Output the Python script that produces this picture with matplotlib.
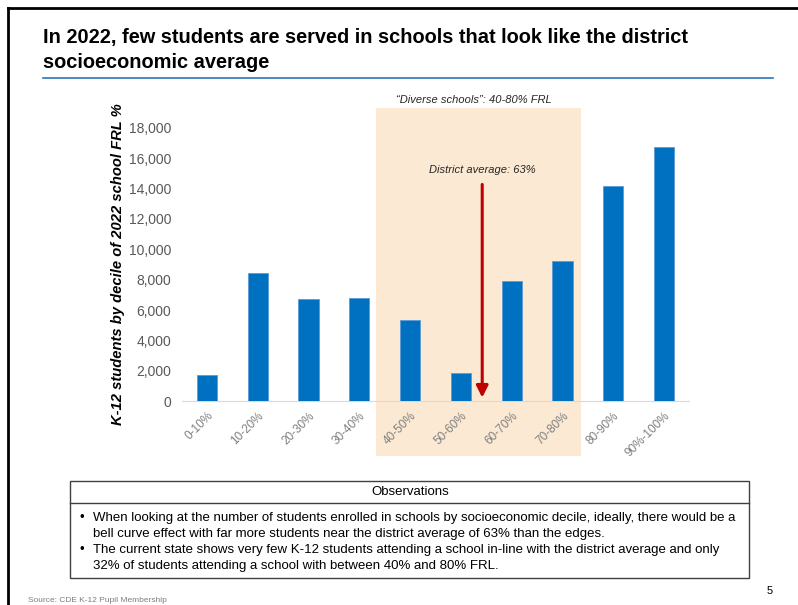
import matplotlib.pyplot as plt
import matplotlib.patches as mpatches
from matplotlib.lines import Line2D
from matplotlib.ticker import FuncFormatter

plt.rcParams["font.family"] = ["Liberation Sans", "DejaVu Sans"]

deciles = ["0-10%", "10-20%", "20-30%", "30-40%", "40-50%",
           "50-60%", "60-70%", "70-80%", "80-90%", "90%-100%"]
students = [1700, 8450, 6730, 6810, 5340, 1890, 7890, 9230, 14180, 16730]
yticks = list(range(0, 18001, 2000))

W, H = 798, 605
fig = plt.figure(figsize=(W / 100, H / 100), dpi=100)

def fx(px):
    return px / W

def fy(py):
    return 1 - py / H

# slide frame
fig.add_artist(Line2D([fx(8), fx(8)], [fy(8), 0], color="black", lw=2))
fig.add_artist(Line2D([fx(8), 1], [fy(8), fy(8)], color="black", lw=2))

# title
fig.text(fx(43), fy(37), "In 2022, few students are served in schools that look like the district",
         fontsize=14.4, fontweight="bold", va="center")
fig.text(fx(43), fy(62), "socioeconomic average",
         fontsize=14.4, fontweight="bold", va="center")
fig.add_artist(Line2D([fx(43), fx(773)], [fy(78), fy(78)], color="#2E75B6", lw=1.2))

# diverse-schools band
band = mpatches.Rectangle((fx(376), fy(456)), fx(581) - fx(376), fy(108) - fy(456),
                          transform=fig.transFigure, facecolor="#FCE9D3",
                          edgecolor="none", zorder=0)
fig.add_artist(band)
fig.text(fx(474), fy(100), "\u201cDiverse schools\u201d: 40-80% FRL", fontsize=8,
         style="italic", ha="center", va="center", color="#262626")

ax = fig.add_axes([fx(181.6), fy(401.3), fx(689.4) - fx(181.6), fy(127.7) - fy(401.3)])
ax.set_zorder(2)
ax.patch.set_alpha(0)
x = range(len(deciles))
ax.bar(x, students, width=0.4, color="#0070C0", edgecolor="#5B9BD5", linewidth=0.6, zorder=3)
ax.set_xlim(-0.5, len(deciles) - 0.5)
ax.set_ylim(0, 18000)
ax.set_yticks(yticks)
ax.yaxis.set_major_formatter(FuncFormatter(lambda v, p: f"{int(v):,}"))
ax.set_xticks(list(x))
ax.set_xticklabels(deciles, rotation=45, ha="right", rotation_mode="anchor",
                   fontsize=8.5, color="#7F7F7F")
ax.tick_params(axis="y", length=0, labelsize=10, labelcolor="#595959", pad=7.5)
ax.tick_params(axis="x", length=0, pad=6)
for s in ["top", "right", "left"]:
    ax.spines[s].set_visible(False)
ax.spines["bottom"].set_color("#D9D9D9")
ax.set_ylabel("K-12 students by decile of 2022 school FRL %", fontsize=10.6,
              fontweight="bold", style="italic")
ax.yaxis.set_label_coords(-0.1115, 0.5)

# district average arrow
ax.annotate("", xy=(5.42, 60), xytext=(5.42, 14450),
            arrowprops=dict(arrowstyle="-|>,head_length=0.7,head_width=0.35",
                            color="#C00000", lw=2.2), zorder=4)
ax.text(5.42, 15200, "District average: 63%", fontsize=8, style="italic",
        ha="center", va="center", color="#262626")

# observations box
fig.add_artist(mpatches.Rectangle((fx(70), fy(578)), fx(749) - fx(70), fy(481) - fy(578),
                                  transform=fig.transFigure, facecolor="none",
                                  edgecolor="#404040", lw=1))
fig.add_artist(Line2D([fx(70), fx(749)], [fy(503), fy(503)], color="#404040", lw=1))
fig.text(fx(410), fy(492), "Observations", fontsize=9.5, ha="center", va="center")
lines = [
    ("\u2022", "When looking at the number of students enrolled in schools by socioeconomic decile, ideally, there would be a"),
    ("", "bell curve effect with far more students near the district average of 63% than the edges."),
    ("\u2022", "The current state shows very few K-12 students attending a school in-line with the district average and only"),
    ("", "32% of students attending a school with between 40% and 80% FRL."),
]
for i, (b, t) in enumerate(lines):
    yy = fy(518 + i * 16)
    if b:
        fig.text(fx(79), yy, b, fontsize=9.5, va="center")
    fig.text(fx(93), yy, t, fontsize=9.5, va="center")

fig.text(fx(28), fy(601), "Source: CDE K-12 Pupil Membership", fontsize=6,
         color="#7F7F7F", va="center")
fig.text(fx(767), fy(591), "5", fontsize=8, va="center")

fig.savefig("out.png", dpi=100)
